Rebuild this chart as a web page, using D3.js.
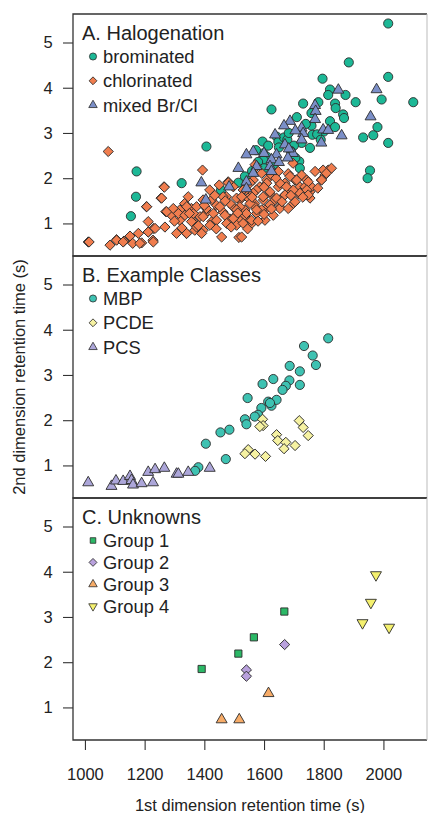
<!DOCTYPE html>
<html>
<head>
<meta charset="utf-8">
<script src="https://cdn.jsdelivr.net/npm/d3@7"></script>
<style>
  body { margin: 0; background: #fff; }
  svg { display: block; font-family: "Liberation Sans", Arial, Helvetica, sans-serif; }
</style>
</head>
<body>
<svg id="chart" width="428" height="813"></svg>
<script>
// x = 1st dimension retention time (s), y = 2nd dimension retention time (s)
const brominated = [
  [2016, 5.42], [1884, 4.56], [2016, 4.24], [1796, 4.2], [1821, 3.96], [1815, 3.84],
  [1873, 3.84], [1994, 3.74], [2100, 3.68], [1907, 3.68], [1838, 3.65], [1731, 3.65],
  [1782, 3.68], [1625, 3.52], [1865, 3.41], [1868, 3.33], [1759, 3.44], [1821, 3.26],
  [1759, 3.16], [1980, 3.13], [1838, 3.13], [1762, 2.96], [1932, 2.9], [1966, 2.95],
  [2016, 2.78], [1595, 2.81], [1642, 2.92], [1648, 2.8], [1667, 2.9], [1678, 2.85],
  [1726, 2.78], [1754, 2.67], [1598, 2.55], [1610, 2.47], [1407, 2.7], [1173, 2.15],
  [1324, 1.89], [1171, 1.59], [1154, 1.16], [1456, 1.74], [1514, 1.9], [1536, 2.04],
  [1598, 2.4], [1631, 2.3], [1718, 2.37], [1720, 2.22], [1955, 2.17], [1947, 2.0],
  [1800, 3.03], [1778, 2.97], [1683, 3.0], [1700, 2.72], [1614, 2.72], [1573, 2.62],
  [1690, 2.6], [1650, 2.68], [1580, 2.36], [1600, 2.22], [1560, 2.16], [1705, 2.45],
  [1740, 3.2], [1790, 2.85], [1840, 3.55], [1710, 3.35]
];
const chlorinated = [
  [1011, 0.59], [1084, 0.52], [1106, 0.64], [1131, 0.61], [1151, 0.72], [1160, 0.56],
  [1179, 0.78], [1190, 0.57], [1206, 1.37], [1212, 1.04], [1212, 0.81], [1228, 0.63],
  [1230, 0.89], [1265, 1.81], [1255, 1.56], [1268, 0.92], [1271, 1.26], [1290, 1.18],
  [1307, 0.78], [1318, 1.07], [1318, 1.3], [1334, 1.44], [1346, 1.59], [1357, 1.33],
  [1340, 0.78], [1363, 1.04], [1368, 0.85], [1385, 1.15], [1394, 2.18], [1396, 1.52],
  [1396, 0.85], [1408, 1.25], [1418, 1.74], [1425, 1.04], [1441, 1.4], [1450, 1.85],
  [1458, 0.7], [1463, 1.25], [1474, 1.59], [1480, 1.92], [1485, 1.1], [1496, 1.37],
  [1516, 0.69], [1519, 1.52], [1519, 1.07], [1536, 1.3], [1541, 1.74], [1547, 1.07],
  [1553, 1.55], [1564, 1.96], [1569, 1.44], [1575, 2.26], [1575, 1.22], [1586, 1.81],
  [1598, 1.52], [1603, 1.3], [1609, 1.96], [1620, 1.66], [1625, 2.07], [1636, 1.52],
  [1648, 1.81], [1653, 1.37], [1664, 1.59], [1670, 1.89], [1681, 2.1], [1687, 1.74],
  [1697, 2.33], [1698, 1.44], [1704, 1.96], [1715, 1.66], [1720, 1.81], [1726, 2.07],
  [1737, 1.81], [1743, 1.96], [1754, 1.7], [1759, 1.81], [1792, 1.96], [1804, 2.07],
  [1815, 2.18], [1826, 2.22], [1570, 2.3], [1592, 2.11], [1648, 2.15], [1653, 1.89],
  [1687, 2.04], [1709, 1.96], [1748, 1.92], [1743, 1.74], [1720, 1.67], [1698, 1.74],
  [1675, 1.81], [1670, 1.63], [1642, 1.56], [1620, 1.7], [1609, 1.89], [1597, 1.59],
  [1575, 1.74], [1570, 1.37], [1592, 1.3], [1620, 1.41], [1653, 1.33], [1631, 1.18],
  [1547, 1.56], [1530, 1.74], [1553, 1.89], [1519, 1.37], [1536, 1.18], [1502, 1.15],
  [1508, 1.56], [1497, 1.81], [1480, 1.9], [1798, 2.18], [1809, 2.11], [1793, 1.96],
  [1771, 2.15], [1754, 1.56], [1704, 1.48], [1681, 1.33], [1603, 1.07], [1559, 1.0],
  [1508, 0.96], [1078, 2.59], [1014, 0.59], [1106, 0.63], [1128, 0.59], [1184, 0.56],
  [1212, 0.81], [1229, 0.59], [1235, 0.89], [1257, 1.56], [1207, 1.37], [1266, 1.8],
  [1274, 1.26], [1296, 1.33], [1313, 1.22], [1335, 1.18], [1341, 1.37], [1341, 0.78],
  [1357, 1.04], [1363, 1.22], [1374, 1.37], [1374, 0.92], [1391, 0.78], [1396, 1.15],
  [1407, 1.33], [1419, 0.96], [1424, 1.52], [1430, 1.22], [1441, 1.07], [1452, 1.37],
  [1463, 1.59], [1469, 1.18], [1475, 1.0], [1486, 1.44], [1497, 1.11], [1508, 1.3],
  [1525, 1.59], [1530, 1.0], [1541, 1.22], [1553, 1.44], [1558, 1.07], [1564, 1.67],
  [1575, 1.3], [1748, 1.63], [1525, 0.7], [1600, 1.2], [1660, 1.48], [1730, 1.58],
  [1780, 1.78], [1640, 2.0], [1600, 1.8], [1560, 1.58], [1512, 1.23], [1470, 1.5],
  [1435, 1.62], [1400, 1.4], [1380, 0.95], [1350, 1.22], [1325, 0.9], [1300, 1.05],
  [1440, 0.88], [1490, 0.92], [1545, 0.88], [1580, 1.05], [1625, 1.32], [1690, 1.62]
];
const mixedBrCl = [
  [1977, 3.96], [1849, 3.95], [1771, 3.61], [1773, 3.48], [1771, 3.3], [1687, 3.26],
  [1667, 3.16], [1726, 3.11], [1731, 2.99], [1637, 2.96], [1705, 3.05], [1798, 3.07],
  [1815, 3.06], [1860, 2.94], [1957, 3.36], [1792, 2.78], [1726, 2.85], [1670, 2.74],
  [1697, 2.55], [1680, 2.45], [1564, 2.59], [1541, 2.52], [1642, 2.52], [1625, 2.41],
  [1620, 2.26], [1625, 2.15], [1575, 2.26], [1564, 2.11], [1514, 2.22], [1541, 1.92],
  [1541, 1.77], [1390, 1.9], [1405, 1.52], [1483, 1.81], [1600, 2.55], [1650, 2.35],
  [1683, 2.65]
];

const mbp = [
  [1815, 3.81], [1734, 3.64], [1763, 3.43], [1774, 3.22], [1686, 3.2], [1720, 3.08],
  [1720, 2.78], [1685, 2.88], [1673, 2.76], [1662, 2.67], [1631, 2.91], [1595, 2.8],
  [1545, 2.49], [1614, 2.41], [1625, 2.32], [1642, 2.45], [1591, 2.27], [1580, 2.12],
  [1569, 2.08], [1536, 2.02], [1541, 1.91], [1484, 1.79], [1454, 1.73], [1405, 1.48],
  [1472, 1.14], [1380, 0.96], [1369, 0.88], [1620, 2.38]
];
const pcde = [
  [1718, 1.99], [1731, 1.84], [1748, 1.66], [1704, 1.44], [1642, 1.68], [1646, 1.55],
  [1673, 1.51], [1667, 1.37], [1595, 2.02], [1597, 1.88], [1586, 1.86], [1547, 1.35],
  [1536, 1.26], [1570, 1.25], [1605, 1.2]
];
const pcs = [
  [1011, 0.62], [1089, 0.54], [1104, 0.66], [1128, 0.65], [1151, 0.76], [1156, 0.67],
  [1161, 0.57], [1190, 0.6], [1212, 0.85], [1235, 0.91], [1228, 0.62], [1266, 0.94],
  [1307, 0.81], [1313, 0.81], [1346, 0.85], [1418, 0.94]
];

const group1 = [[1391, 1.85], [1514, 2.19], [1566, 2.55], [1668, 3.12]];
const group2 = [[1541, 1.83], [1541, 1.69], [1669, 2.39]];
const group3 = [[1458, 0.73], [1517, 0.73], [1615, 1.31]];
const group4 = [[1975, 3.93], [1958, 3.32], [1930, 2.87], [2019, 2.77]];

const xTicks = [1000, 1200, 1400, 1600, 1800, 2000];
const yTicks = [1, 2, 3, 4, 5];

const circle = {type: d3.symbolCircle, size: 66, rot: 0};
const diamond = {type: d3.symbolSquare, size: 52, rot: 45};
const triUp = {type: d3.symbolTriangle, size: 52, rot: 0};
const triDown = {type: d3.symbolTriangle, size: 52, rot: 180};
const square = {type: d3.symbolSquare, size: 52, rot: 0};

const panels = [
  {title: 'A. Halogenation', gap: 24.3, series: [
    {name: 'brominated', data: brominated, shape: circle, fill: '#1cb896'},
    {name: 'chlorinated', data: chlorinated, shape: diamond, fill: '#f07d4e'},
    {name: 'mixed Br/Cl', data: mixedBrCl, shape: triUp, fill: '#7b8fc8'}
  ]},
  {title: 'B. Example Classes', gap: 24.3, series: [
    {name: 'MBP', data: mbp, shape: circle, fill: '#3ec2b2'},
    {name: 'PCDE', data: pcde, shape: diamond, fill: '#f6f2a2'},
    {name: 'PCS', data: pcs, shape: triUp, fill: '#aca6d9'}
  ]},
  {title: 'C. Unknowns', gap: 21.9, series: [
    {name: 'Group 1', data: group1, shape: square, fill: '#2bb866'},
    {name: 'Group 2', data: group2, shape: diamond, fill: '#b9a1dd'},
    {name: 'Group 3', data: group3, shape: triUp, fill: '#f7ac68'},
    {name: 'Group 4', data: group4, shape: triDown, fill: '#f4f06e'}
  ]}
];

const svg = d3.select('#chart');
const left = 73, right = 427, top0 = 14, panelH = 242;

const x = d3.scaleLinear().domain([960, 2146]).range([left, right]);

panels.forEach((p, i) => {
  const top = top0 + i * panelH;
  const y = d3.scaleLinear().domain([0.28, 5.63]).range([top + panelH, top]);
  const g = svg.append('g');

  g.selectAll('path.pt')
    .data(p.series.flatMap(s => s.data.map(d => ({d, s}))))
    .join('path')
    .attr('class', 'pt')
    .attr('transform', e => `translate(${x(e.d[0])},${y(e.d[1])}) rotate(${e.s.shape.rot})`)
    .attr('d', e => d3.symbol(e.s.shape.type, e.s.shape.size)())
    .attr('fill', e => e.s.fill)
    .attr('stroke', '#2b2b2b')
    .attr('stroke-width', 0.9);

  // y axis
  const ya = g.append('g')
    .attr('transform', `translate(${left},0)`)
    .call(d3.axisLeft(y).tickValues(yTicks).tickSize(10).tickPadding(13).tickFormat(d3.format('d')));
  ya.select('.domain').remove();
  ya.selectAll('line').attr('stroke', '#333').attr('stroke-width', 1.1);
  ya.selectAll('text').attr('font-size', 16.5).attr('fill', '#222').attr('text-anchor', 'middle').attr('x', -25);

  // box: right side is faint in the original
  g.append('path')
    .attr('d', `M${right},${top}H${left}V${top + panelH}H${right}`)
    .attr('fill', 'none').attr('stroke', '#333').attr('stroke-width', 1.3);
  g.append('line')
    .attr('x1', right).attr('x2', right).attr('y1', top).attr('y2', top + panelH)
    .attr('stroke', '#bbb').attr('stroke-width', 1);

  // legend
  g.append('text')
    .attr('x', 82).attr('y', top + 25.5)
    .attr('font-size', 20).attr('fill', '#222')
    .text(p.title);
  p.series.forEach((s, j) => {
    const cy = top + 42.5 + j * p.gap;
    g.append('path')
      .attr('transform', `translate(93,${cy}) rotate(${s.shape.rot})`)
      .attr('d', d3.symbol(s.shape.type, s.shape.size * 0.6)())
      .attr('fill', s.fill)
      .attr('stroke', '#2b2b2b')
      .attr('stroke-width', 0.8);
    g.append('text')
      .attr('x', 103).attr('y', cy + 6.5)
      .attr('font-size', 18.3).attr('fill', '#222')
      .text(s.name);
  });
});

// x axis
const bottom = top0 + panels.length * panelH;
const xa = svg.append('g')
  .attr('transform', `translate(0,${bottom})`)
  .call(d3.axisBottom(x).tickValues(xTicks).tickSize(10).tickPadding(18).tickFormat(d3.format('d')));
xa.select('.domain').remove();
xa.selectAll('line').attr('stroke', '#333').attr('stroke-width', 1.1);
xa.selectAll('text').attr('font-size', 16.5).attr('fill', '#222');

svg.append('text')
  .attr('x', (left + right) / 2).attr('y', 811)
  .attr('text-anchor', 'middle').attr('font-size', 16.5).attr('fill', '#222')
  .text('1st dimension retention time (s)');

svg.append('text')
  .attr('transform', `translate(25,${top0 + 1.5 * panelH}) rotate(-90)`)
  .attr('text-anchor', 'middle').attr('font-size', 16.5).attr('fill', '#222')
  .text('2nd dimension retention time (s)');
</script>
</body>
</html>
